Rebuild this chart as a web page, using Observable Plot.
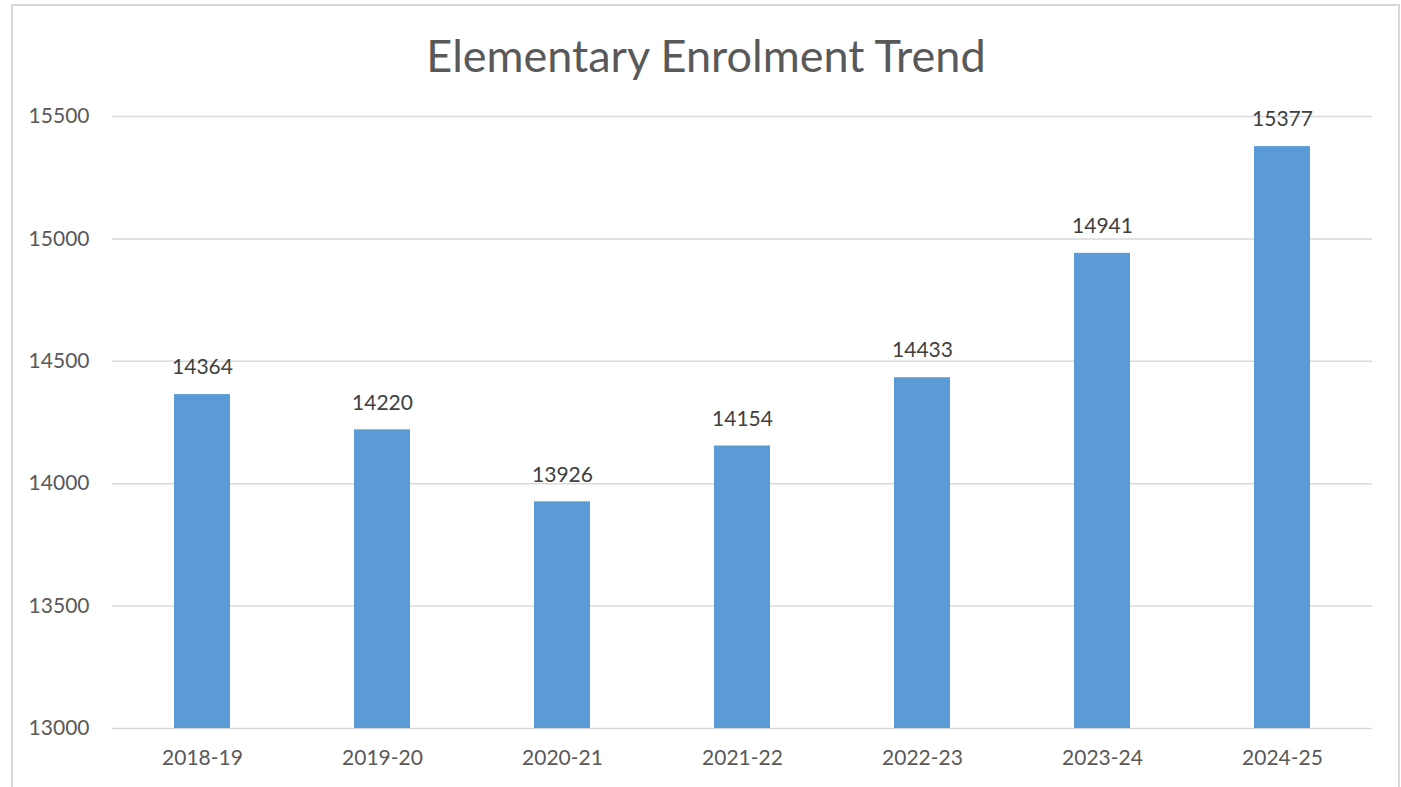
<!DOCTYPE html>
<html>
<head>
<meta charset="utf-8">
<script src="https://cdn.jsdelivr.net/npm/d3@7"></script>
<script src="https://cdn.jsdelivr.net/npm/@observablehq/plot@0.6"></script>
<style>
  html, body { margin: 0; padding: 0; background: #fff; width: 1401px; height: 787px; overflow: hidden; }
  #frame { position: absolute; left: 11px; top: 4px; width: 1389px; height: 800px; border: 2px solid #d9d9d9; border-bottom: none; box-sizing: border-box; }
  #title { position: absolute; left: 0; width: 1412px; top: 25px; text-align: center; font-family: Lato, sans-serif; font-size: 45px; color: #595959; line-height: 60px; }
  #chart { position: absolute; left: 0; top: 0; }
</style>
</head>
<body>
<div id="frame"></div>
<div id="title">Elementary Enrolment Trend</div>
<div id="chart"></div>
<script>
const years = ["2018-19", "2019-20", "2020-21", "2021-22", "2022-23", "2023-24", "2024-25"];
const enrolment = [14364, 14220, 13926, 14154, 14433, 14941, 15377];
const yTicks = [13000, 13500, 14000, 14500, 15000, 15500];

const data = years.map((y, i) => ({year: y, value: enrolment[i]}));

const chart = Plot.plot({
  width: 1401,
  height: 787,
  marginLeft: 112,
  marginRight: 29,
  marginTop: 116,
  marginBottom: 59,
  style: { fontFamily: "Lato, sans-serif", fontSize: "21px", color: "#595959", background: "transparent", overflow: "visible" },
  x: { domain: years, paddingInner: 0.69, paddingOuter: 0.345, label: null },
  y: { domain: [13000, 15500], label: null },
  marks: [
    Plot.ruleY(yTicks, { stroke: "#d9d9d9", strokeWidth: 1.5 }),
    Plot.barY(data, { x: "year", y1: () => 13000, y2: "value", fill: "#5b9bd5" }),
    Plot.text(data, { x: "year", y: "value", text: d => String(d.value), dy: -27, fill: "#404040", fontSize: 21 }),
    Plot.axisY({ ticks: yTicks, tickSize: 0, tickPadding: 23, tickFormat: d => String(d), fontSize: 21, label: null }),
    Plot.axisX({ tickSize: 0, tickPadding: 22, fontSize: 21, label: null })
  ]
});
document.getElementById("chart").appendChild(chart);
</script>
</body>
</html>
